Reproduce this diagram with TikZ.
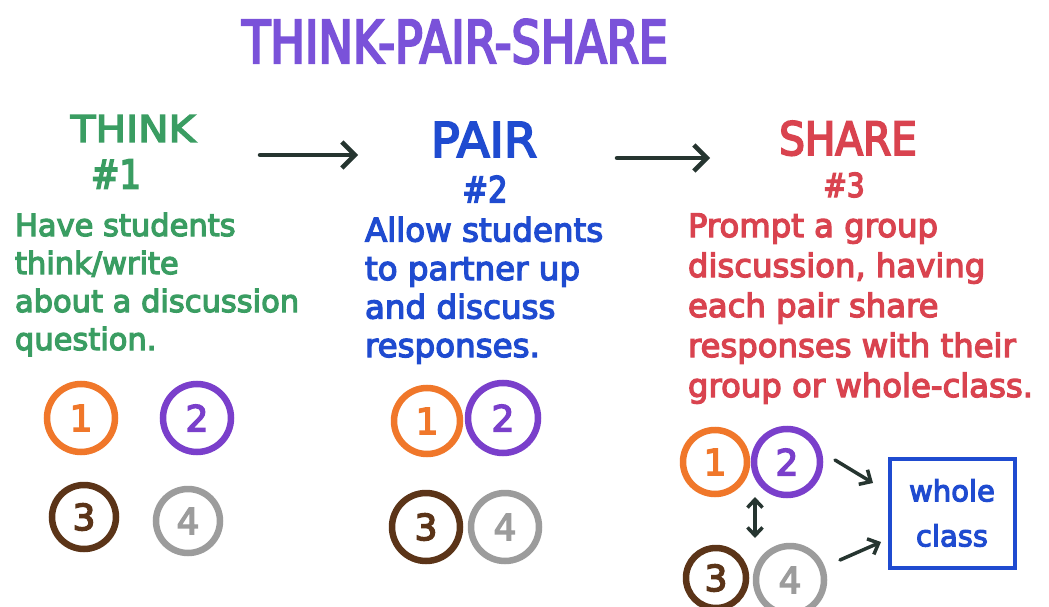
\documentclass[tikz,border=0pt]{standalone}
\usepackage{fontspec}
\usetikzlibrary{arrows.meta}
\newfontfamily\hand[FakeBold=4]{DejaVu Sans}
\newcommand\myfs[2]{\fontsize{#1}{#2}\selectfont}
\definecolor{tgreen}{HTML}{3A9D62}
\definecolor{tblue}{HTML}{1F4BD0}
\definecolor{tred}{HTML}{D9434F}
\definecolor{tpurple}{HTML}{7A52D9}
\definecolor{corange}{HTML}{F0772A}
\definecolor{cpurple}{HTML}{7A3FCB}
\definecolor{cbrown}{HTML}{5B3418}
\definecolor{cgray}{HTML}{9C9C9C}
\definecolor{ink}{HTML}{263530}
\begin{document}
\begin{tikzpicture}[x=1pt,y=-1pt,
  every node/.style={inner sep=0pt, outer sep=0pt},
  body/.style={align=left, anchor=base west},
  head/.style={anchor=base},
  num/.style={anchor=center},
  pc/.style={circle, draw=#1, text=#1, line width=6.5pt, minimum size=68pt, font=\hand\myfs{36}{36}},
  bigarr/.style={draw=ink, line width=4.5pt, line cap=round, -{Straight Barb[length=13pt,width=26pt]}},
  smallarr/.style={draw=ink, line width=3.5pt, line cap=round, -{Straight Barb[length=9pt,width=17pt]}},
  dblarr/.style={draw=ink, line width=3.5pt, line cap=round, {Straight Barb[length=8pt,width=15pt]}-{Straight Barb[length=8pt,width=15pt]}}
]
\fill[white] (0,0) rectangle (1049,607);
\useasboundingbox (0,0) rectangle (1049,607);

% title
\node[head, text=tpurple, font=\hand\myfs{59}{59}] (title) at (455,63) {\addfontfeature{FakeStretch=0.78}THINK-PAIR-SHARE};

% headings
\node[head, text=tgreen, font=\hand\myfs{37}{37}] (think) at (133,142) {\addfontfeature{FakeStretch=1.1}THINK};
\node[num, text=tgreen, font=\hand\myfs{40}{40}] (h1) at (116,174) {\addfontfeature{FakeStretch=0.85}\#1};
\node[head, text=tblue, font=\hand\myfs{48}{48}] (pair) at (484,157) {PAIR};
\node[num, text=tblue, font=\hand\myfs{36}{36}] (h2) at (485,189) {\addfontfeature{FakeStretch=0.85}\#2};
\node[head, text=tred, font=\hand\myfs{46}{46}] (share) at (848,155) {\addfontfeature{FakeStretch=0.88}SHARE};
\node[num, text=tred, font=\hand\myfs{33}{33}] (h3) at (844,185) {\addfontfeature{FakeStretch=0.85}\#3};

% bodies (base = last line)
\node[body, text=tgreen, font=\hand\myfs{30.5}{38}] (thinkbody) at (15,350) {Have students\\think/write\\about a discussion\\question.};
\node[body, text=tblue, font=\hand\myfs{32.5}{38.5}] (pairbody) at (365,357) {Allow students\\to partner up\\and discuss\\responses.};
\node[body, text=tred, font=\hand\myfs{32.3}{40}] (sharebody) at (688,397) {Prompt a group\\discussion, having\\each pair share\\responses with their\\group or whole-class.};

% arrows between stages
\coordinate (a1s) at (260,155);
\coordinate (a1e) at (358,155);
\coordinate (a2s) at (617,158);
\coordinate (a2e) at (710,158);
\draw[bigarr] (a1s) -- (a1e);
\draw[bigarr] (a2s) -- (a2e);

% think circles
\node[pc=corange] (t1) at (81,418) {1};
\node[pc=cpurple] (t2) at (197,418) {2};
\node[pc=cbrown, minimum size=64pt] (t3) at (84,517) {3};
\node[pc=cgray, minimum size=64pt] (t4) at (188,521) {4};

% pair circles
\node[pc=corange, minimum size=66pt] (p1) at (427,421) {1};
\node[pc=cpurple, minimum size=70pt] (p2) at (503,418) {2};
\node[pc=cbrown, minimum size=68pt] (p3) at (426,527) {3};
\node[pc=cgray, minimum size=68pt] (p4) at (505,527) {4};

% share circles
\node[pc=corange, minimum size=64pt] (s1) at (715,462) {1};
\node[pc=cpurple, minimum size=66pt] (s2) at (787,462) {2};
\node[pc=cbrown, minimum size=60pt] (s3) at (716,578) {3};
\node[pc=cgray, minimum size=68pt] (s4) at (790,580) {4};

% whole class box
\node[draw=tblue, text=tblue, line width=4pt, minimum width=125pt, minimum height=109pt, align=center, font=\hand\myfs{29}{45}] (box) at (952,513) {whole\\class};

% share arrows
\coordinate (d1) at (755,497);
\coordinate (d2) at (755,538);
\draw[dblarr] (d1) -- (d2);
\coordinate (w1s) at (835,460);
\coordinate (w1e) at (873,483);
\coordinate (w2s) at (840,560);
\coordinate (w2e) at (881,542);
\draw[smallarr] (w1s) -- (w1e);
\draw[smallarr] (w2s) -- (w2e);
\end{tikzpicture}
\end{document}
